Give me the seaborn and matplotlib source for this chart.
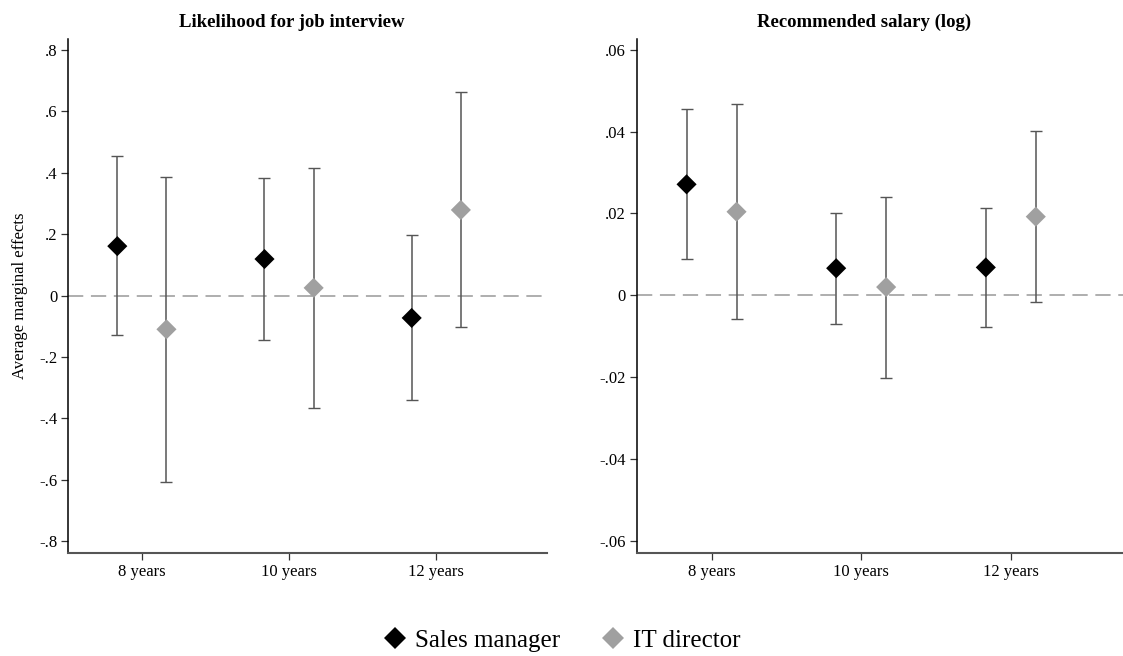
import pandas as pd
import matplotlib
matplotlib.use("Agg")
import matplotlib.pyplot as plt
import seaborn as sns

# Data (point estimate, lower CI, upper CI)
categories = ["8 years", "10 years", "12 years"]
groups = ["Sales manager", "IT director"]

interview_sales = [0.161, 0.119, -0.073]
interview_sales_lo = [-0.130, -0.146, -0.342]
interview_sales_hi = [0.456, 0.384, 0.196]
interview_it = [-0.110, 0.025, 0.279]
interview_it_lo = [-0.609, -0.368, -0.104]
interview_it_hi = [0.386, 0.417, 0.665]

salary_sales = [0.0271, 0.0066, 0.0068]
salary_sales_lo = [0.0088, -0.0070, -0.0077]
salary_sales_hi = [0.0456, 0.0202, 0.0212]
salary_it = [0.0204, 0.0020, 0.0192]
salary_it_lo = [-0.0058, -0.0201, -0.0016]
salary_it_hi = [0.0468, 0.0240, 0.0402]

interview_ticks = [-0.8, -0.6, -0.4, -0.2, 0, 0.2, 0.4, 0.6, 0.8]
interview_ticklabels = ["-.8", "-.6", "-.4", "-.2", "0", ".2", ".4", ".6", ".8"]
salary_ticks = [-0.06, -0.04, -0.02, 0, 0.02, 0.04, 0.06]
salary_ticklabels = ["-.06", "-.04", "-.02", "0", ".02", ".04", ".06"]

sns.set_style("white")
plt.rcParams["font.family"] = ["Liberation Serif", "DejaVu Serif"]
plt.rcParams["text.color"] = "black"
plt.rcParams["axes.labelcolor"] = "black"
plt.rcParams["xtick.color"] = "black"
plt.rcParams["ytick.color"] = "black"

colors = {"Sales manager": "#000000", "IT director": "#a0a0a0"}
offsets = {"Sales manager": -0.167, "IT director": 0.167}


def build_frame(sales, sales_lo, sales_hi, it, it_lo, it_hi):
    rows = []
    for g, est, lo, hi in [("Sales manager", sales, sales_lo, sales_hi),
                           ("IT director", it, it_lo, it_hi)]:
        for i, cat in enumerate(categories):
            rows.append({"group": g, "category": cat, "pos": i + offsets[g],
                         "est": est[i], "lo": lo[i], "hi": hi[i]})
    return pd.DataFrame(rows)


def draw_panel(ax, df, title, ticks, ticklabels, ylim):
    ax.axhline(0, color="#999999", lw=1.1, dashes=(10, 5), zorder=1)
    for g in groups:
        sub = df[df["group"] == g]
        ax.errorbar(sub["pos"], sub["est"],
                    yerr=[sub["est"] - sub["lo"], sub["hi"] - sub["est"]],
                    fmt="none", ecolor="#555555", elinewidth=1.1,
                    capsize=4, capthick=1.0, zorder=2)
    sns.scatterplot(data=df, x="pos", y="est", hue="group", hue_order=groups,
                    palette=colors, marker="D", s=105, linewidth=0,
                    ax=ax, zorder=3, legend=False)
    ax.set_xlim(-0.5, 2.75)
    ax.set_ylim(*ylim)
    ax.set_xticks(range(len(categories)))
    ax.set_xticklabels(categories, fontsize=12)
    ax.set_yticks(ticks)
    ax.set_yticklabels(ticklabels, fontsize=12)
    ax.set_xlabel("")
    ax.set_ylabel("")
    ax.set_title(title, fontsize=13.5, fontweight="bold", x=0.467, pad=9)
    sns.despine(ax=ax)
    ax.spines["left"].set_color("black")
    ax.spines["bottom"].set_color("#555555")
    ax.spines["left"].set_linewidth(1.1)
    ax.spines["bottom"].set_linewidth(1.5)
    ax.tick_params(axis="both", direction="out", length=5, width=0.9,
                   color="#333333", bottom=True, left=True, pad=3)


fig = plt.figure(figsize=(11.23, 6.56), dpi=100)
ax1 = fig.add_axes([0.0608, 0.1575, 0.426, 0.783])
ax2 = fig.add_axes([0.567, 0.1575, 0.433, 0.783])

df_interview = build_frame(interview_sales, interview_sales_lo, interview_sales_hi,
                           interview_it, interview_it_lo, interview_it_hi)
df_salary = build_frame(salary_sales, salary_sales_lo, salary_sales_hi,
                        salary_it, salary_it_lo, salary_it_hi)

draw_panel(ax1, df_interview, "Likelihood for job interview",
           interview_ticks, interview_ticklabels, (-0.838, 0.836))
draw_panel(ax2, df_salary, "Recommended salary (log)",
           salary_ticks, salary_ticklabels, (-0.0629, 0.0626))
ax1.set_ylabel("Average marginal effects", fontsize=12, labelpad=8)

handles = [plt.Line2D([], [], marker="D", linestyle="none", markersize=11.5,
                      markerfacecolor=colors[g], markeredgewidth=0, label=g)
           for g in groups]
fig.legend(handles=handles, loc="center", bbox_to_anchor=(0.5, 0.024), ncol=2,
           frameon=False, fontsize=18, handletextpad=0.3, columnspacing=1.6,
           handlelength=1.0)

fig.savefig("out.png", dpi=100)
